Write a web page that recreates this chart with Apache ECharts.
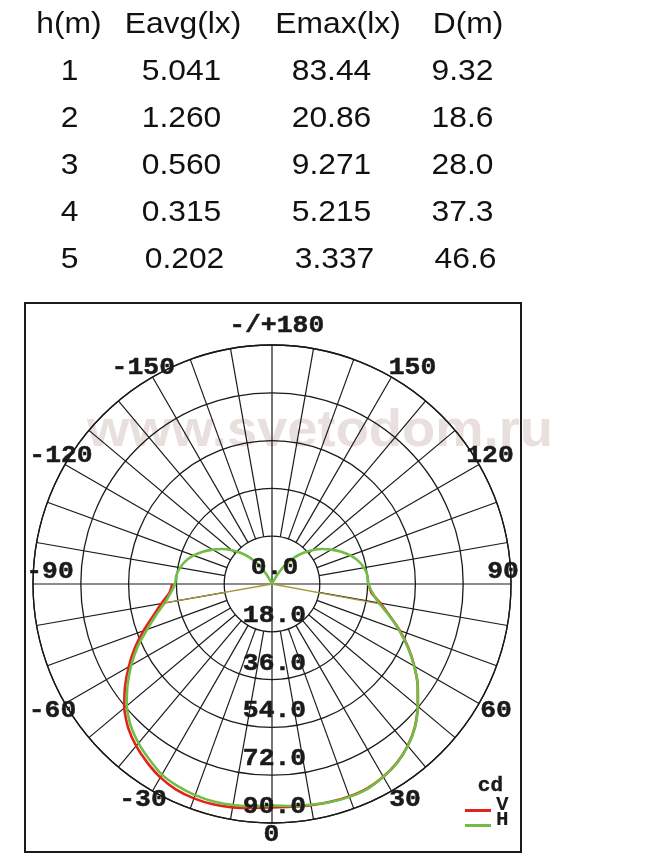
<!DOCTYPE html>
<html><head><meta charset="utf-8">
<script src="https://cdn.jsdelivr.net/npm/echarts@6/dist/echarts.min.js"></script>
<style>html,body{margin:0;padding:0;background:#fff}#chart{width:649px;height:867px}</style>
</head><body><div id="chart"></div>
<script>
// ---------------- DATA ----------------
const tableHeaders = ['h(m)', 'Eavg(lx)', 'Emax(lx)', 'D(m)'];
const heights = ['1', '2', '3', '4', '5'];
const eavg = ['5.041', '1.260', '0.560', '0.315', '0.202'];
const emax = ['83.44', '20.86', '9.271', '5.215', '3.337'];
const dist = ['9.32', '18.6', '28.0', '37.3', '46.6'];

// lower hemisphere angles (deg, 0 = nadir)
const lowerAngles = [-90,-85,-80,-75,-70,-65,-60,-55,-50,-45,-40,-35,-30,-25,-20,-15,-10,-5,0,5,10,15,20,25,30,35,40,45,50,55,60,65,70,75,80,85,90];
// V plane intensity (cd)
const vValues = [37.6,38.8,42.3,46.3,51.5,57.0,62.3,67.6,72.6,76.6,79.6,82.0,84.1,85.4,85.9,85.9,85.4,84.7,84.1,84.2,84.6,84.9,85.1,84.9,83.8,82.1,79.5,76.1,71.7,67.0,61.9,56.6,51.2,45.8,41.4,37.6,36.3];
// H plane intensity (cd), lower hemisphere
const hLowerValues = [36.5,38.3,41.0,45.2,50.0,55.8,61.2,66.4,71.4,75.3,78.2,80.6,82.9,84.0,84.6,84.8,84.5,84.0,83.44,83.9,84.4,85.0,85.3,85.1,83.8,82.2,79.6,76.2,71.7,67.0,61.8,56.4,51.0,45.6,40.8,38.0,36.3];
// H plane, upper hemisphere
const hLeftAngles = [-180,-175,-170,-165,-160,-155,-150,-145,-140,-135,-130,-125,-120,-115,-110,-105,-100,-95];
const hLeftValues = [0,0,0,0,0,0.8,4.5,9.0,13.0,16.5,19.8,23.0,25.9,28.8,31.4,33.6,35.2,36.2];
const hRightAngles = [95,100,105,110,115,120,125,130,135,140,145,150,155,160,165,170,175,180];
const hRightValues = [36.1,35.2,33.6,31.4,28.8,25.9,23.0,19.8,16.5,13.0,9.0,4.5,0.8,0,0,0,0,0];
// thin spikes from the centre
const spikeAngles = [-80, 0, 79.5];
const spikeValues = [42.0, 0, 41.2];

// axes
const angleTicks = [180, -150, 150, -120, 120, -90, 90, -60, 60, -30, 30, 0];
const angleTickLabels = ['-/+180', '-150', '150', '-120', '120', '-90', '90', '-60', '60', '-30', '30', '0'];
const ringValues = [0, 18, 36, 54, 72, 90];
const ringLabels = ['0.0', '18.0', '36.0', '54.0', '72.0', '90.0'];
const spokeAngles = [-170,-160,-150,-140,-130,-120,-110,-100,-90,-80,-70,-60,-50,-40,-30,-20,-10,0,10,20,30,40,50,60,70,80,90,100,110,120,130,140,150,160,170,180];
const legendNames = ['V', 'H'];
const unitLabel = 'cd';
const watermark = 'www.svetodom.ru';

// ---------------- STYLE ----------------
const INK = '#1a1a1a';
const RED = '#e2231b';
const GREEN = '#70be45';
const MONO = '"Liberation Mono", "DejaVu Sans Mono", monospace';
const SANS = '"Liberation Sans", Arial, sans-serif';
const angleLabelOffset = {
  '180': [4.7, -19.5], '-150': [-9.2, -9.5], '150': [21, -9.5],
  '-120': [-4, -9], '120': [11, -9], '-90': [17, -12.5], '90': [-8, -12.5],
  '-60': [-12.5, 7], '60': [17, 7], '-30': [-9.5, 8.5], '30': [13.5, 8.5], '0': [-0.5, 11.5]
};
const ringLabelOffset = [2.5, -16];
const labelFont = 'bold 24px ' + MONO;
const labelScaleX = 1.1;

// ---------------- BUILD ----------------
const vData = lowerAngles.map((a, i) => [vValues[i], a]);
const hAngles = hLeftAngles.concat(lowerAngles, hRightAngles);
const hVals = hLeftValues.concat(hLowerValues, hRightValues);
const hData = hAngles.map((a, i) => [hVals[i], a]);
const spikeData = spikeAngles.map((a, i) => [spikeValues[i], a]);

const graphics = [];
graphics.push({
  type: 'text', x: 87, y: 432, z: -1, silent: true, scaleX: 1.045,
  style: { text: watermark, font: 'bold 52px ' + SANS, fill: '#e9dfdc', align: 'left', verticalAlign: 'middle' }
});
const headerX = [69, 183, 338, 468];
const cellX = [69.5, 181.5, 331.5, 462.5];
tableHeaders.forEach((t, j) => graphics.push({
  type: 'text', x: headerX[j], y: 24.5, scaleX: 1.06,
  style: { text: t, font: '30px ' + SANS, fill: '#111', align: 'center', verticalAlign: 'middle' }
}));
const cols = [heights, eavg, emax, dist];
heights.forEach((_, i) => {
  cols.forEach((col, j) => graphics.push({
    type: 'text', x: cellX[j] + (i === 4 && j > 0 ? 3 : 0), y: 71.7 + i * 47.1, scaleX: 1.06,
    style: { text: col[i], font: '30px ' + SANS, fill: '#111', align: 'center', verticalAlign: 'middle' }
  }));
});
graphics.push({
  type: 'rect', z: 100, silent: true,
  shape: { x: 25, y: 303, width: 496, height: 549 },
  style: { fill: 'none', stroke: INK, lineWidth: 2 }
});
graphics.push({
  type: 'text', x: 503, y: 786, z: 100,
  style: { text: unitLabel, font: 'bold 21px ' + MONO, fill: INK, stroke: INK, lineWidth: 0.4, align: 'right', verticalAlign: 'middle' }
});

const chart = echarts.init(document.getElementById('chart'), null, { renderer: 'canvas', width: 649, height: 867 });
chart.setOption({
  animation: false,
  backgroundColor: '#ffffff',
  polar: { center: [272, 584], radius: 239 },
  angleAxis: {
    type: 'value', min: -180, max: 180, interval: 30, startAngle: 90, clockwise: false,
    axisLine: { show: true, lineStyle: { color: INK, width: 1.3 } },
    axisTick: { show: false }, axisLabel: { show: false }, splitLine: { show: false }
  },
  radiusAxis: {
    type: 'value', min: 0, max: 90, interval: 18,
    axisLine: { show: false }, axisTick: { show: false }, axisLabel: { show: false },
    splitLine: { show: true, lineStyle: { color: INK, width: 1.3 } }
  },
  legend: {
    data: legendNames, orient: 'vertical', left: 460, top: 789, icon: 'rect',
    itemWidth: 26, itemHeight: 3, itemGap: -18, selectedMode: false,
    formatter: name => '{t|' + name + '}',
    textStyle: {
      color: INK,
      rich: { t: { fontFamily: MONO, fontWeight: 'bold', fontSize: 21, color: INK, lineHeight: 16, padding: [0, 0, 12, 0] } }
    }
  },
  graphic: { elements: graphics },
  series: [
    {
      name: 'grid', type: 'custom', coordinateSystem: 'polar', silent: true, z: 1,
      data: spokeAngles.map(a => [a % 90 === 0 ? 0 : ringValues[1], a]),
      renderItem: (params, api) => {
        const a = api.value(1);
        const p0 = api.coord([api.value(0), a]);
        const p1 = api.coord([ringValues[ringValues.length - 1], a]);
        return { type: 'line', shape: { x1: p0[0], y1: p0[1], x2: p1[0], y2: p1[1] }, style: { stroke: INK, lineWidth: 1.2 } };
      }
    },
    {
      name: 'V', type: 'line', coordinateSystem: 'polar', data: vData, showSymbol: false, smooth: 0.2,
      lineStyle: { color: RED, width: 2.6 }, itemStyle: { color: RED }, z: 3, silent: true
    },
    {
      name: 'H', type: 'line', coordinateSystem: 'polar', data: hData, showSymbol: false, smooth: 0.2,
      lineStyle: { color: GREEN, width: 2.6 }, itemStyle: { color: GREEN }, z: 4, silent: true
    },
    {
      name: 'spike', type: 'line', coordinateSystem: 'polar', data: spikeData, showSymbol: false,
      lineStyle: { color: '#a49a3e', width: 1.3 }, z: 5, silent: true
    },
    {
      name: 'angleLabels', type: 'custom', coordinateSystem: 'polar', silent: true, z: 10,
      data: angleTicks.map((a, i) => [ringValues[ringValues.length - 1], a, i]),
      renderItem: (params, api) => {
        const a = api.value(1);
        const p = api.coord([api.value(0), a]);
        const off = angleLabelOffset[String(a)];
        return { type: 'text', x: p[0] + off[0], y: p[1] + off[1], scaleX: labelScaleX,
          style: { text: angleTickLabels[params.dataIndex], font: labelFont, fill: INK, stroke: INK, lineWidth: 0.5, align: 'center', verticalAlign: 'middle' } };
      }
    },
    {
      name: 'ringLabels', type: 'custom', coordinateSystem: 'polar', silent: true, z: 10,
      data: ringValues.map((r, i) => [r, 0, i]),
      renderItem: (params, api) => {
        const p = api.coord([api.value(0), api.value(1)]);
        return { type: 'text', x: p[0] + ringLabelOffset[0], y: p[1] + ringLabelOffset[1], scaleX: labelScaleX,
          style: { text: ringLabels[params.dataIndex], font: labelFont, fill: INK, stroke: INK, lineWidth: 0.5, align: 'center', verticalAlign: 'middle' } };
      }
    }
  ]
});
</script></body></html>
